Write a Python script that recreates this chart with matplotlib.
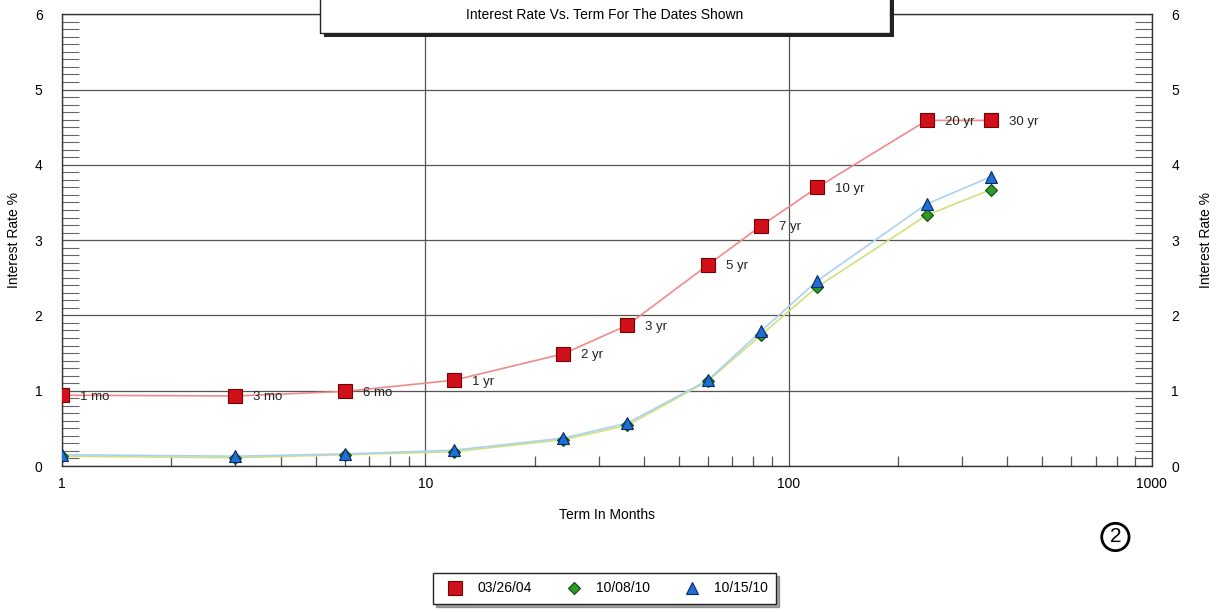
#Curva de rendimientos: tasa de interes vs plazo (escala log)
import matplotlib.pyplot as plt
from matplotlib.ticker import MultipleLocator, LogLocator, NullFormatter, FixedLocator
from matplotlib.patches import Rectangle

plt.rcParams['font.family'] = ['Liberation Sans', 'DejaVu Sans']

#plazos en meses y sus etiquetas
plazos = [1, 3, 6, 12, 24, 36, 60, 84, 120, 240, 360]
etiquetas_plazo = ["1 mo", "3 mo", "6 mo", "1 yr", "2 yr", "3 yr",
                   "5 yr", "7 yr", "10 yr", "20 yr", "30 yr"]

#tasas por fecha
tasas_2004 = [0.94, 0.93, 0.99, 1.14, 1.49, 1.87, 2.67, 3.19, 3.70, 4.59, 4.59]
tasas_oct08 = [0.13, 0.11, 0.15, 0.19, 0.35, 0.54, 1.13, 1.74, 2.38, 3.33, 3.67]
tasas_oct15 = [0.15, 0.13, 0.16, 0.21, 0.37, 0.57, 1.14, 1.79, 2.46, 3.48, 3.84]

fechas = ["03/26/04", "10/08/10", "10/15/10"]

fig = plt.figure(figsize=(12.19, 6.13), dpi=100)
ax = fig.add_axes([0.0509, 0.2398, 0.894, 0.737])
ax2 = ax.twinx()                                    #solo para la etiqueta de la derecha

#lineas de cada fecha
ax.plot(plazos, tasas_2004, color="#f08a8a", lw=1.2, zorder=2)
ax.plot(plazos, tasas_oct08, color="#cfe27a", lw=1.2, zorder=2)
ax.plot(plazos, tasas_oct15, color="#a9d2f2", lw=1.2, zorder=2)

#marcadores
ax.plot(plazos, tasas_2004, ls="none", marker="s", ms=10, mfc="#d0101a",
        mec="#7a0000", mew=0.8, zorder=4, label=fechas[0])
ax.plot(plazos, tasas_oct08, ls="none", marker="D", ms=6, mfc="#2f9a2a",
        mec="#0d4a0d", mew=0.8, zorder=4, label=fechas[1])
ax.plot(plazos, tasas_oct15, ls="none", marker="^", ms=8, mfc="#1e6fd6",
        mec="#0a2a60", mew=0.8, zorder=5, label=fechas[2])

#etiqueta del plazo al lado de cada punto rojo
for x, y, txt in zip(plazos, tasas_2004, etiquetas_plazo):
    ax.annotate(txt, (x, y), xytext=(13, -1), textcoords="offset points",
                va="center", ha="left", fontsize=9.5, color="#222222", zorder=6)

#ejes
ax.set_xscale("log")
ax.set_xlim(1, 1000)
ax.set_ylim(0, 6)
ax.xaxis.set_major_locator(FixedLocator([1, 10, 100, 1000]))
ax.set_xticklabels(["1", "10", "100", "1000"])
ax.xaxis.set_minor_locator(LogLocator(base=10, subs=range(2, 10)))
ax.xaxis.set_minor_formatter(NullFormatter())
ax.yaxis.set_major_locator(MultipleLocator(1))
ax.yaxis.set_minor_locator(MultipleLocator(0.1))

ax.tick_params(axis="x", which="major", length=0, pad=8, labelsize=10)
ax.tick_params(axis="x", which="minor", direction="in", length=7, width=0.9,
               color="#555555")
ax.tick_params(axis="y", which="major", length=0, pad=14, labelsize=10,
               left=True, right=True, labelleft=True, labelright=True)
ax.tick_params(axis="y", which="minor", direction="in", length=12, width=0.8,
               left=True, right=True, color="#666666")

ax.grid(True, which="major", color="#555555", lw=0.9)
for s in ax.spines.values():
    s.set_color("#333333")
    s.set_linewidth(1.0)

ax.set_xlabel("Term In Months", fontsize=10, labelpad=12)
ax.set_ylabel("Interest Rate %", fontsize=10, labelpad=10)

ax2.set_ylim(0, 6)
ax2.set_yticks([])
for s in ax2.spines.values():
    s.set_visible(False)
ax2.set_ylabel("Interest Rate %", fontsize=10, labelpad=34)

#caja del titulo con sombra
fig.patches.append(Rectangle((0.2660, 0.940), 0.4676, 0.1, transform=fig.transFigure,
                             facecolor="#222222", edgecolor="none", zorder=8))
fig.patches.append(Rectangle((0.2625, 0.946), 0.4676, 0.1, transform=fig.transFigure,
                             facecolor="white", edgecolor="#222222", lw=1.0, zorder=9))
fig.text(0.496, 0.9755, "Interest Rate Vs. Term For The Dates Shown",
         ha="center", va="center", fontsize=10, zorder=10)

#leyenda abajo
leg = fig.legend(loc="center", bbox_to_anchor=(0.496, 0.040), ncol=3,
                 fontsize=10, frameon=True, fancybox=False, shadow=True,
                 handletextpad=0.6, columnspacing=2.0, borderpad=0.6)
leg.get_frame().set_edgecolor("#222222")
leg.get_frame().set_linewidth(1.0)

#numero de pagina a mano
fig.text(0.915, 0.124, "2", fontsize=15, ha="center", va="center",
         bbox=dict(boxstyle="circle,pad=0.2", fc="none", ec="black", lw=2))

fig.savefig("out.png", dpi=100)
